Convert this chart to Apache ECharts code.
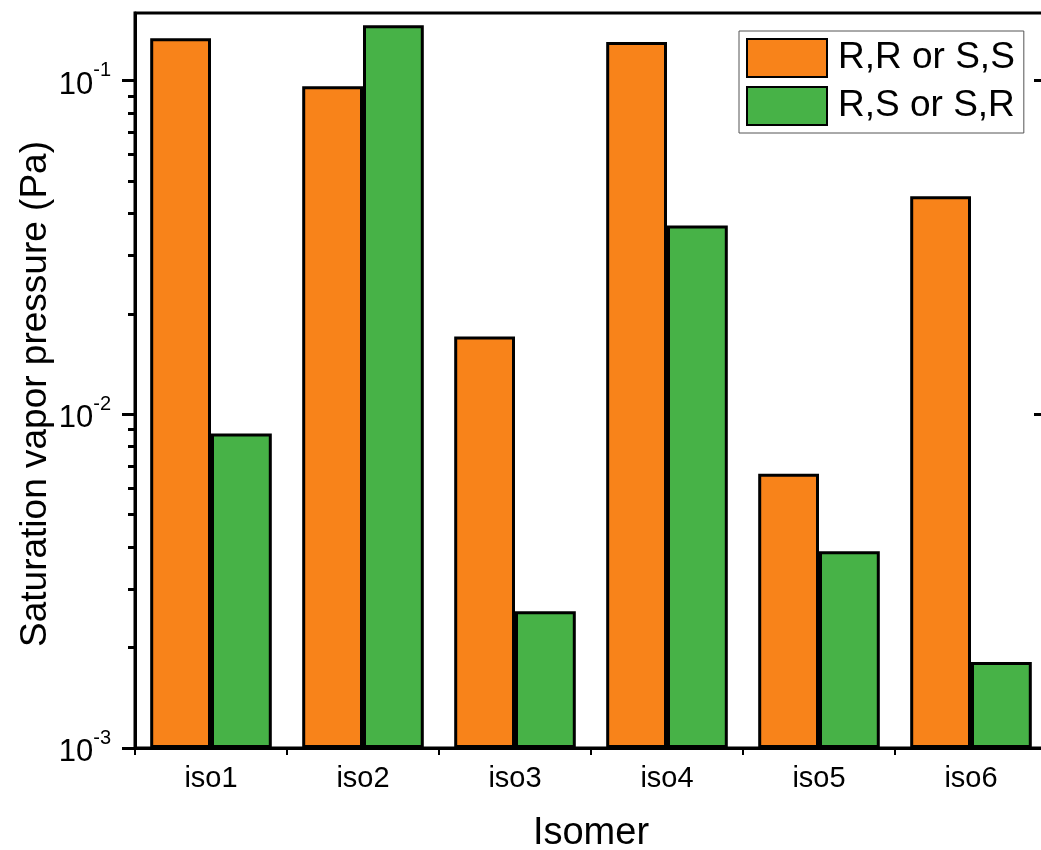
<!DOCTYPE html>
<html>
<head>
<meta charset="utf-8">
<script src="https://cdn.jsdelivr.net/npm/echarts@6/dist/echarts.min.js"></script>
<style>html,body{margin:0;padding:0;background:#fff;}#c{width:1041px;height:850px;}</style>
</head>
<body>
<div id="c"></div>
<script>
const categories = ['iso1', 'iso2', 'iso3', 'iso4', 'iso5', 'iso6'];
const seriesNames = ['R,R or S,S', 'R,S or S,R'];
const rrValues = [0.134, 0.0962, 0.0171, 0.1305, 0.00664, 0.0450];
const rsValues = [0.00876, 0.1465, 0.00257, 0.0368, 0.00389, 0.00181];
const majorTicks = [0.001, 0.01, 0.1];
const minorTicks = [0.002, 0.003, 0.004, 0.005, 0.006, 0.007, 0.008, 0.009,
                    0.02, 0.03, 0.04, 0.05, 0.06, 0.07, 0.08, 0.09];
const yMin = 0.001, yMax = 0.1594;
const yTitle = 'Saturation vapor pressure (Pa)';
const xTitle = 'Isomer';

const FONT = 'Liberation Sans, Arial, sans-serif';
const chart = echarts.init(document.getElementById('c'), null, {renderer: 'canvas'});
const baseY = {type: 'log', logBase: 10, min: yMin, max: yMax, startValue: yMin, splitLine: {show: false}};
chart.setOption({
  animation: false,
  backgroundColor: '#fff',
  textStyle: {fontFamily: FONT, color: '#000'},
  grid: {left: 135, width: 912, top: 13, bottom: 102, containLabel: false, outerBoundsMode: 'none',
         show: true, borderColor: '#000', borderWidth: 3, backgroundColor: 'transparent'},
  graphic: [{
    type: 'text', x: 36, y: 394, rotation: Math.PI / 2,
    style: {text: yTitle, font: '37px Liberation Sans, Arial, sans-serif', fill: '#000', textAlign: 'center', textVerticalAlign: 'middle'}
  }],
  legend: {
    orient: 'vertical', left: 739, top: 31,
    icon: 'rect',
    itemWidth: 80, itemHeight: 38, itemGap: 8,
    padding: [7, 9, 7, 7],
    borderColor: '#555', borderWidth: 1,
    textStyle: {fontSize: 37, fontFamily: FONT, color: '#000', padding: [0, 0, 0, 6]},
    data: seriesNames
  },
  xAxis: {
    type: 'category', data: categories,
    name: xTitle, nameLocation: 'middle', nameGap: 67,
    nameTextStyle: {fontSize: 38, fontFamily: FONT, color: '#000'},
    axisLine: {lineStyle: {color: '#000', width: 3}},
    axisTick: {show: true, length: 7, lineStyle: {color: '#000', width: 2}},
    axisLabel: {fontSize: 29, fontFamily: FONT, color: '#000', margin: 16}
  },
  yAxis: [
    Object.assign({}, baseY, {
      position: 'left',
      axisLine: {show: true, lineStyle: {color: '#000', width: 3}},
      axisTick: {show: true, length: 13, lineStyle: {color: '#000', width: 3}, customValues: majorTicks},
      minorTick: {show: false},
      axisLabel: {
        customValues: majorTicks, margin: 24, fontFamily: FONT, color: '#000',
        formatter: function (v) { return '{b|10}{s|' + Math.round(Math.log10(v)) + '}'; },
        rich: {
          b: {fontSize: 31, fontFamily: FONT, color: '#000', verticalAlign: 'bottom', lineHeight: 40},
          s: {fontSize: 20, fontFamily: FONT, color: '#000', verticalAlign: 'top', lineHeight: 40, padding: [0, 0, 12, 0]}
        }
      }
    }),
    Object.assign({}, baseY, {
      position: 'left', offset: 0,
      axisLine: {show: false},
      axisTick: {show: true, length: 7, lineStyle: {color: '#000', width: 3}, customValues: minorTicks},
      axisLabel: {show: false}
    }),
    Object.assign({}, baseY, {
      position: 'right',
      axisLine: {show: true, lineStyle: {color: '#000', width: 3}},
      axisTick: {show: true, inside: true, length: 13, lineStyle: {color: '#000', width: 3}, customValues: majorTicks},
      axisLabel: {show: false}
    })
  ],
  series: [
    {
      name: seriesNames[0], type: 'bar', data: rrValues, yAxisIndex: 0,
      barGap: '0%', barCategoryGap: '20%',
      itemStyle: {color: '#F8831A', borderColor: '#000', borderWidth: 3}
    },
    {
      name: seriesNames[1], type: 'bar', data: rsValues, yAxisIndex: 0,
      barGap: '0%', barCategoryGap: '20%',
      itemStyle: {color: '#47B247', borderColor: '#000', borderWidth: 3}
    }
  ]
});
</script>
</body>
</html>
